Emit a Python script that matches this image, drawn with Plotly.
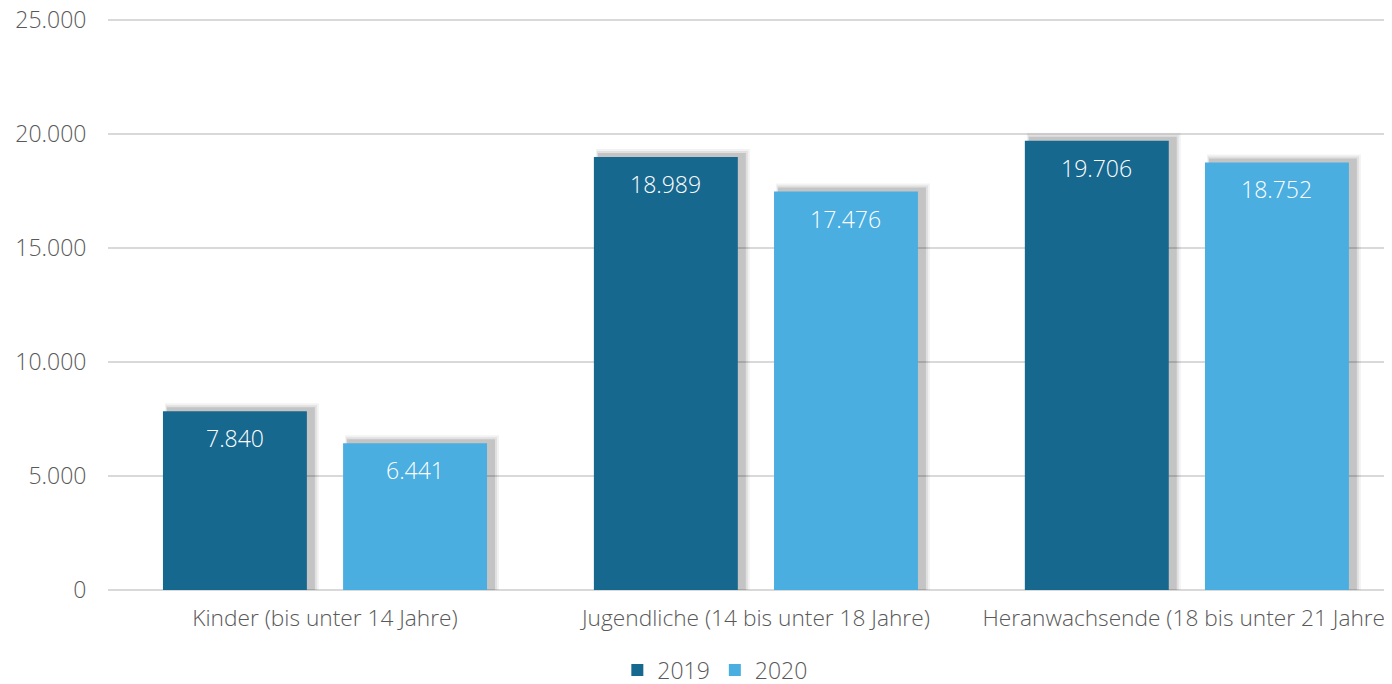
import plotly.graph_objects as go

categories = ["Kinder (bis unter 14 Jahre)", "Jugendliche (14 bis unter 18 Jahre)",
              "Heranwachsende (18 bis unter 21 Jahre)"]
series_names = ["2019", "2020"]
values_2019 = [7840, 18989, 19706]
values_2020 = [6441, 17476, 18752]
y_ticks = [0, 5000, 10000, 15000, 20000, 25000]

colors = ["#17688F", "#4AAEE1"]
series_values = [values_2019, values_2020]

BAR_W = 0.334
OFFSETS = [-0.376, 0.042]
PX_PER_UNIT_Y = 570 / 25000
PX_PER_CAT = 431
FONT = "Open Sans"
GRAY = "#595959"

fig = go.Figure()
idx = list(range(len(categories)))

# soft drop shadows (layers to fake blur)
for vals, off in zip(series_values, OFFSETS):
    for extra_px, dx_px, dw_px, alpha in [(8, 2, 10, 0.05), (6, 3, 7, 0.07), (4, 4, 4, 0.12)]:
        fig.add_trace(go.Bar(
            x=idx, y=[v + extra_px / PX_PER_UNIT_Y for v in vals],
            offset=off + dx_px / PX_PER_CAT, width=BAR_W + dw_px / PX_PER_CAT,
            marker=dict(color=f"rgba(0,0,0,{alpha})", line=dict(width=0)),
            showlegend=False, hoverinfo="skip"))

for name, vals, off, col in zip(series_names, series_values, OFFSETS, colors):
    fig.add_trace(go.Bar(
        x=idx, y=vals, name=name, offset=off, width=BAR_W,
        marker=dict(color=col, line=dict(width=0))))
    for i, v in enumerate(vals):
        fig.add_annotation(
            x=i + off + BAR_W / 2, y=v, xref="x", yref="y",
            text=f"{v:,}".replace(",", "."), showarrow=False,
            yanchor="top", yshift=-9,
            font=dict(color="white", size=23, family=FONT, weight=300))

fig.update_layout(
    width=1384, height=676,
    barmode="overlay",
    separators=",.",
    plot_bgcolor="white", paper_bgcolor="white",
    margin=dict(l=100, r=0, t=10, b=94, autoexpand=False),
    font=dict(family=FONT, size=23, color=GRAY, weight=300),
    xaxis=dict(
        tickmode="array", tickvals=idx, ticktext=categories,
        range=[-0.5035, 2.476], showgrid=False, zeroline=False,
        showline=False, ticks="outside", ticklen=8, tickcolor="rgba(0,0,0,0)",
        ticklabeloverflow="allow",
        tickfont=dict(size=22.7, color=GRAY, family=FONT, weight=300)),
    yaxis=dict(
        range=[0, 25088], tickvals=y_ticks, tickformat=",d",
        showgrid=True, gridcolor="#D9D9D9", gridwidth=1.5,
        zeroline=True, zerolinecolor="#D9D9D9", zerolinewidth=1.5,
        showline=False, ticks="outside", ticklen=16, tickcolor="rgba(0,0,0,0)",
        ticklabeloverflow="allow",
        tickfont=dict(size=23, color=GRAY, family=FONT, weight=300)),
    legend=dict(orientation="h", x=0.473, xanchor="center", y=-0.14, yanchor="middle",
                font=dict(size=23, color=GRAY, family=FONT, weight=300),
                traceorder="normal", itemwidth=30),
)

fig.write_html("out.html")
